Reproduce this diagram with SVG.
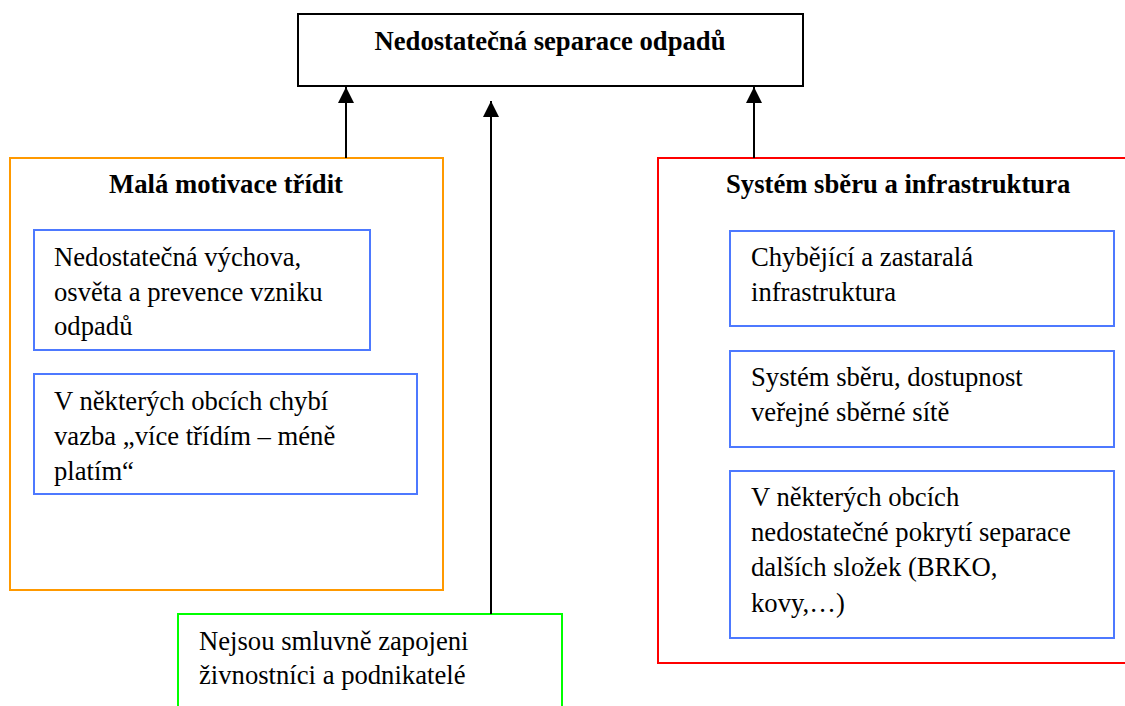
<svg xmlns="http://www.w3.org/2000/svg" width="1125" height="706" viewBox="0 0 1125 706" font-family="'Liberation Serif', 'Times New Roman', 'DejaVu Serif', serif">
<style>
text{font-family:'Liberation Serif','Times New Roman','DejaVu Serif',serif;fill:#000}
.t{font-size:26.67px}
.b{font-size:26.67px;font-weight:bold}
.blue{fill:none;stroke:#4d79ff;stroke-width:2}
.conn{stroke:#000;stroke-width:2;fill:none}
</style>
<defs>
<marker id="ah" markerWidth="16" markerHeight="16" refX="16" refY="8" orient="auto" markerUnits="userSpaceOnUse" viewBox="0 0 16 16">
<path d="M0,0 L16,8 L0,16 Z" fill="#000"/>
</marker>
</defs>
<g id="top">
<rect x="298" y="14" width="505" height="72" fill="#fff" stroke="#000" stroke-width="2"/>
<text class="b" x="550" y="50" text-anchor="middle">Nedostatečná separace odpadů</text>
</g>
<g id="motivace">
<rect x="10" y="158" width="433" height="432" fill="none" stroke="#ff9900" stroke-width="2"/>
<text class="b" x="226" y="193" text-anchor="middle">Malá motivace třídit</text>
</g>
<g id="vychova">
<rect class="blue" x="34" y="230" width="336" height="120"/>
<text class="t" x="54" y="266">Nedostatečná výchova,</text>
<text class="t" x="54" y="301">osvěta a prevence vzniku</text>
<text class="t" x="54" y="335">odpadů</text>
</g>
<g id="vazba">
<rect class="blue" x="34" y="374" width="383" height="120"/>
<text class="t" x="54" y="410">V některých obcích chybí</text>
<text class="t" x="54" y="445">vazba „více třídím – méně</text>
<text class="t" x="54" y="480">platím“</text>
</g>
<g id="system">
<rect x="658" y="158" width="480" height="505" fill="none" stroke="#ff0000" stroke-width="2"/>
<text class="b" x="726" y="193">Systém sběru a infrastruktura</text>
</g>
<g id="infra">
<rect class="blue" x="730" y="231" width="384" height="95"/>
<text class="t" x="751" y="266">Chybějící a zastaralá</text>
<text class="t" x="751" y="301">infrastruktura</text>
</g>
<g id="sber">
<rect class="blue" x="730" y="351" width="384" height="96"/>
<text class="t" x="751" y="386">Systém sběru, dostupnost</text>
<text class="t" x="751" y="421">veřejné sběrné sítě</text>
</g>
<g id="pokryti">
<rect class="blue" x="730" y="471" width="384" height="167"/>
<text class="t" x="751" y="506">V některých obcích</text>
<text class="t" x="751" y="541">nedostatečné pokrytí separace</text>
<text class="t" x="751" y="576">dalších složek (BRKO,</text>
<text class="t" x="751" y="612">kovy,…)</text>
</g>
<g id="zivnostnici">
<rect x="178" y="614" width="384" height="110" fill="none" stroke="#00ff00" stroke-width="2"/>
<text class="t" x="199" y="650">Nejsou smluvně zapojeni</text>
<text class="t" x="199" y="684">živnostníci a podnikatelé</text>
</g>
<g id="connectors">
<line class="conn" x1="346" y1="158" x2="346" y2="87" marker-end="url(#ah)"/>
<line class="conn" x1="491" y1="614" x2="491" y2="101" marker-end="url(#ah)"/>
<line class="conn" x1="754" y1="158" x2="754" y2="87" marker-end="url(#ah)"/>
</g>
</svg>
